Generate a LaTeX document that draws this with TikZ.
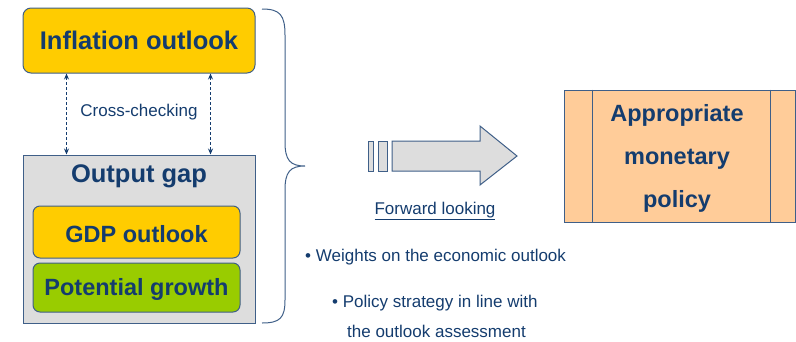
\documentclass[tikz,border=0pt]{standalone}
\usepackage{fontspec}
\setmainfont{Liberation Sans}
\usetikzlibrary{arrows.meta}
\definecolor{navy}{HTML}{143C6E}
\definecolor{edge}{HTML}{3F5F88}
\definecolor{yel}{HTML}{FFCC00}
\definecolor{grn}{HTML}{99CC00}
\definecolor{gry}{HTML}{DDDDDD}
\definecolor{peach}{HTML}{FFCC99}
\tikzset{
  box/.style={draw=edge, line width=1pt, inner sep=0pt, text=navy, font=\bfseries\fontsize{25.5}{30}\selectfont},
  subbox/.style={box, rounded corners=7pt, minimum width=207pt, font=\bfseries\fontsize{23.5}{28}\selectfont},
  lbl/.style={text=navy, inner sep=0pt, font=\fontsize{17}{20}\selectfont},
  dasharrow/.style={draw=navy, line width=0.9pt, dash pattern=on 3pt off 2pt, {Stealth[length=6pt,width=5pt]}-{Stealth[length=6pt,width=5pt]}},
  bracepath/.style={draw=edge, line width=1pt},
  blockarrow/.style={draw=edge, line width=1pt, fill=gry, line join=miter}
}
\begin{document}
\begin{tikzpicture}[x=1pt,y=-1pt]
\useasboundingbox (0,0) rectangle (796,341);
% left column
\node[box, fill=yel, rounded corners=8pt, minimum width=232pt, minimum height=65pt] (infl) at (139,40.5) {};
\node[box, draw=none] (infltxt) at (139,40) {Inflation outlook};
\node[box, fill=gry, minimum width=232pt, minimum height=168pt] (out) at (139,239) {};
\node[box, draw=none, anchor=center] (outlbl) at (139,176) {Output gap};
\node[subbox, fill=yel, minimum height=52pt] (gdp) at (136.5,232) {};
\node[subbox, draw=none] (gdptxt) at (136.5,234) {GDP outlook};
\node[subbox, fill=grn, minimum height=49pt] (pot) at (136.5,287.5) {};
\node[subbox, draw=none] (pottxt) at (136.5,289.5) {Potential growth};
% cross-checking arrows
\draw[dasharrow] ([xshift=44pt]infl.south west) -- ([xshift=44pt]out.north west);
\draw[dasharrow] ([xshift=-45pt]infl.south east) -- ([xshift=-45pt]out.north east);
\node[lbl] (cross) at (139,112) {Cross-checking};
% brace
\draw[bracepath] (262,9) .. controls (280,9) and (285,15) .. (285,35) -- (285,142)
  .. controls (285,160) and (290,166) .. (305,166)
  .. controls (290,166) and (285,172) .. (285,190) -- (285,300)
  .. controls (285,318) and (280,323) .. (262,323);
% block arrow
\draw[blockarrow] (368,141) rectangle (373,171);
\draw[blockarrow] (378,141) rectangle (387,171);
\draw[blockarrow] (392,141) -- (480,141) -- (480,126) -- (517,156) -- (480,185) -- (480,171) -- (392,171) -- cycle;
\node[lbl] (fwd) at (435,211) {\underline{Forward looking}};
% bullets
\node[lbl, anchor=west] (b1) at (305,257) {• Weights on the economic outlook};
\node[lbl, anchor=west] (b2) at (332,303) {• Policy strategy in line with};
\node[lbl, anchor=west] (b3) at (347,331) {the outlook assessment};
% policy box
\node[box, fill=peach, minimum width=231pt, minimum height=132pt] (pol) at (679.5,156) {};
\draw[draw=edge, line width=1pt] ([xshift=29pt]pol.north west) -- ([xshift=29pt]pol.south west);
\draw[draw=edge, line width=1pt] ([xshift=-25pt]pol.north east) -- ([xshift=-25pt]pol.south east);
\node[box, draw=none, align=center, font=\bfseries\fontsize{23.5}{43}\selectfont] (poltxt) at (677,158) {Appropriate\\monetary\\policy};
\end{tikzpicture}
\end{document}
